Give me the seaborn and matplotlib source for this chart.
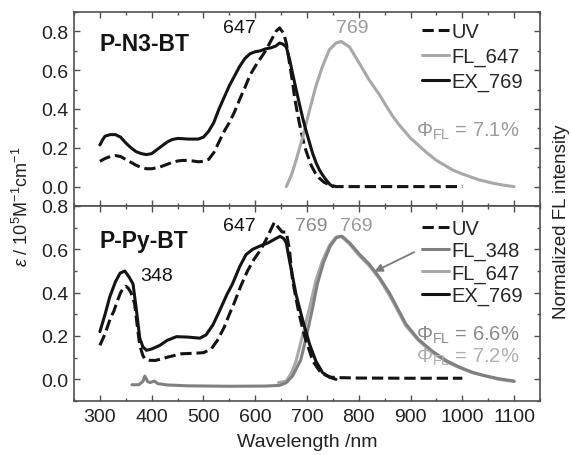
import matplotlib
matplotlib.use("Agg")
import matplotlib.pyplot as plt
import seaborn as sns

# ---------------- P-N3-BT (upper panel) ----------------
n3_uv_wl = [300, 310, 320, 330, 340, 350, 360, 370, 380, 390, 400, 410, 420, 430, 440,
            450, 460, 470, 480, 490, 500, 510, 520, 530, 540, 550, 560, 570, 580, 590,
            600, 610, 620, 630, 640, 647, 655, 660, 666, 672, 676, 680, 685, 690, 695,
            700, 708, 716, 724, 733, 743, 756, 800, 850, 900, 950, 1000]
n3_uv = [0.130, 0.145, 0.155, 0.160, 0.155, 0.140, 0.125, 0.110, 0.098, 0.092, 0.092,
         0.097, 0.105, 0.115, 0.125, 0.132, 0.135, 0.135, 0.132, 0.128, 0.130, 0.140,
         0.175, 0.230, 0.285, 0.330, 0.385, 0.450, 0.510, 0.575, 0.620, 0.660, 0.700,
         0.750, 0.800, 0.818, 0.790, 0.740, 0.640, 0.540, 0.460, 0.400, 0.330, 0.270,
         0.210, 0.170, 0.110, 0.070, 0.043, 0.022, 0.010, 0.000, 0.000, 0.000, 0.000,
         0.000, 0.000]

n3_ex_wl = [300, 305, 310, 320, 330, 340, 350, 360, 370, 380, 390, 400, 410, 420, 430,
            440, 450, 460, 470, 480, 490, 500, 510, 520, 530, 540, 550, 560, 570, 580,
            590, 600, 610, 620, 630, 640, 647, 653, 660, 666, 672, 679, 685, 692, 698,
            705, 711, 718, 724, 730, 737, 744, 750]
n3_ex = [0.215, 0.240, 0.260, 0.268, 0.268, 0.255, 0.225, 0.200, 0.180, 0.170, 0.165,
         0.170, 0.190, 0.210, 0.230, 0.243, 0.248, 0.247, 0.245, 0.245, 0.245, 0.255,
         0.285, 0.330, 0.400, 0.460, 0.520, 0.570, 0.620, 0.660, 0.685, 0.695, 0.700,
         0.710, 0.715, 0.725, 0.740, 0.735, 0.720, 0.660, 0.585, 0.500, 0.430, 0.350,
         0.290, 0.225, 0.170, 0.120, 0.086, 0.060, 0.034, 0.012, 0.000]

n3_fl_wl = [660, 670, 679, 692, 705, 717, 730, 743, 756, 766, 782, 801, 820, 840, 852,
            865, 878, 900, 929, 950, 981, 1000, 1032, 1060, 1080, 1100]
n3_fl = [0.000, 0.060, 0.137, 0.258, 0.395, 0.516, 0.620, 0.705, 0.740, 0.748, 0.720,
         0.636, 0.550, 0.473, 0.420, 0.365, 0.318, 0.250, 0.180, 0.135, 0.086, 0.065,
         0.035, 0.017, 0.007, 0.000]

# ---------------- P-Py-BT (lower panel) ----------------
py_uv_wl = [300, 310, 320, 327, 335, 340, 345, 350, 355, 360, 367, 372, 377, 383, 387,
            395, 407, 420, 435, 458, 480, 500, 515, 527, 540, 550, 559, 572, 585, 598,
            611, 620, 630, 637, 645, 652, 660, 666, 672, 679, 685, 692, 698, 705, 711,
            724, 735, 746, 760, 800, 900, 1000]
py_uv = [0.157, 0.210, 0.280, 0.315, 0.370, 0.400, 0.420, 0.430, 0.420, 0.400, 0.350,
         0.250, 0.157, 0.110, 0.094, 0.088, 0.087, 0.095, 0.105, 0.118, 0.120, 0.123,
         0.140, 0.180, 0.240, 0.300, 0.350, 0.430, 0.500, 0.555, 0.600, 0.640, 0.690,
         0.725, 0.700, 0.680, 0.680, 0.600, 0.460, 0.370, 0.300, 0.230, 0.177, 0.130,
         0.085, 0.039, 0.020, 0.010, 0.008, 0.006, 0.005, 0.005]

py_ex_wl = [300, 310, 319, 330, 339, 348, 357, 364, 370, 374, 377, 383, 390, 400, 416,
            430, 448, 470, 493, 505, 518, 530, 545, 556, 570, 582, 595, 608, 625, 640,
            648, 655, 660, 666, 679, 692, 705, 717, 730, 743, 756]
py_ex = [0.220, 0.300, 0.380, 0.450, 0.490, 0.500, 0.470, 0.440, 0.330, 0.250, 0.190,
         0.150, 0.134, 0.140, 0.157, 0.180, 0.197, 0.195, 0.190, 0.205, 0.250, 0.310,
         0.390, 0.440, 0.520, 0.575, 0.600, 0.614, 0.630, 0.650, 0.660, 0.650, 0.630,
         0.550, 0.390, 0.270, 0.162, 0.085, 0.031, 0.010, 0.000]

py_fl348_wl = [362, 375, 383, 387, 392, 397, 405, 412, 430, 470, 550, 620, 647, 660, 672,
               688, 698, 710, 720, 732, 745, 757, 768, 783, 801, 820, 840, 860, 891, 915,
               942, 970, 994, 1020, 1045, 1070, 1100]
py_fl348 = [-0.025, -0.025, -0.010, 0.015, -0.010, -0.015, -0.008, -0.020, -0.026,
            -0.030, -0.032, -0.031, -0.028, -0.015, 0.015, 0.090, 0.190, 0.320, 0.440,
            0.540, 0.615, 0.655, 0.660, 0.628, 0.578, 0.532, 0.470, 0.395, 0.255, 0.185,
            0.130, 0.085, 0.057, 0.032, 0.016, 0.003, -0.008]

py_fl647_wl = [645, 660, 670, 679, 692, 705, 717, 730, 743, 756, 766, 782, 801, 820, 840,
               860, 891, 915, 942, 970, 994, 1020, 1045, 1070, 1100]
py_fl647 = [-0.015, -0.008, 0.030, 0.085, 0.208, 0.330, 0.455, 0.548, 0.617, 0.656,
            0.660, 0.625, 0.571, 0.525, 0.463, 0.385, 0.247, 0.180, 0.124, 0.080, 0.054,
            0.030, 0.015, 0.000, -0.010]

x_ticks = [300, 400, 500, 600, 700, 800, 900, 1000, 1100]
y_ticks = [0.0, 0.2, 0.4, 0.6, 0.8]

# ---------------- styling ----------------
sns.set_theme(style="ticks")
plt.rcParams["font.family"] = ["Liberation Sans", "DejaVu Sans"]
plt.rcParams.update({
    "mathtext.fontset": "custom",
    "mathtext.rm": "Liberation Sans",
    "mathtext.it": "Liberation Sans:italic",
    "mathtext.bf": "Liberation Sans:bold",
})

BLACK = "#141414"
GRAY_DARK = "#808080"
GRAY_LIGHT = "#a8a8a8"
SPINE = "#505050"
FS = 14
LEG_FS = 14.5
LW = 2.2

fig = plt.figure(figsize=(5.71, 4.56), dpi=100)
ax_top = fig.add_axes([74 / 571, 1 - 207 / 456, 466 / 571, 194 / 456])
ax_bot = fig.add_axes([74 / 571, 1 - 402 / 456, 466 / 571, 195 / 456], sharex=ax_top)

def line(ax, x, y, color, ls="-", label=None, z=2):
    sns.lineplot(x=x, y=y, ax=ax, color=color, linestyle=ls, linewidth=LW,
                 sort=False, estimator=None, label=label, legend=False, zorder=z)

# upper panel
line(ax_top, n3_uv_wl, n3_uv, BLACK, "--", "UV")
line(ax_top, n3_fl_wl, n3_fl, GRAY_LIGHT, "-", "FL_647")
line(ax_top, n3_ex_wl, n3_ex, BLACK, "-", "EX_769", z=2.2)

# lower panel (FL_348 sits above FL_647)
line(ax_bot, py_uv_wl, py_uv, BLACK, "--", "UV", z=2.3)
line(ax_bot, py_fl348_wl, py_fl348, GRAY_DARK, "-", "FL_348", z=2.1)
line(ax_bot, py_fl647_wl, py_fl647, GRAY_LIGHT, "-", "FL_647", z=2.0)
line(ax_bot, py_ex_wl, py_ex, BLACK, "-", "EX_769", z=2.2)

for ax, ylim in ((ax_top, (-0.1, 0.9)), (ax_bot, (-0.1, 0.8))):
    ax.set_xlim(250, 1150)
    ax.set_ylim(*ylim)
    ax.set_yticks(y_ticks)
    ax.set_yticklabels([f"{v:.1f}" for v in y_ticks])
    ax.set_xticks(x_ticks)
    ax.xaxis.set_minor_locator(matplotlib.ticker.MultipleLocator(50))
    ax.yaxis.set_minor_locator(matplotlib.ticker.MultipleLocator(0.1))
    ax.tick_params(which="both", direction="in", top=True, right=True,
                   color=SPINE, width=1.0)
    ax.tick_params(which="major", length=4.5, labelsize=FS, pad=4, labelcolor="#222222")
    ax.tick_params(which="minor", length=2.5)
    ax.tick_params(axis="y", which="both", labelright=False)
    for s in ax.spines.values():
        s.set_color(SPINE)
        s.set_linewidth(1.2)
    ax.set_xlabel("")
    ax.set_ylabel("")
    leg_y = 0.95 if ax is ax_top else 0.935
    spacing = 0.30 if ax is ax_top else 0.16
    ax.legend(loc="upper left", bbox_to_anchor=(0.747, leg_y), frameon=False,
              fontsize=LEG_FS, handlelength=1.35, handletextpad=0.12, borderpad=0,
              borderaxespad=0, labelspacing=spacing)

ax_top.tick_params(axis="x", labelbottom=False)
ax_bot.tick_params(axis="x", pad=5)

# annotations, upper panel
ax_top.text(300, 0.74, "P-N3-BT", fontsize=16.5, fontweight="bold", ha="left", va="center",
            color=BLACK)
ax_top.text(570, 0.82, "647", fontsize=FS, ha="center", va="center", color=BLACK)
ax_top.text(788, 0.82, "769", fontsize=FS, ha="center", va="center", color="#9a9a9a")
ax_top.text(911, 0.29, r"Φ$_{\mathrm{FL}}$ = 7.1%", fontsize=LEG_FS, ha="left",
            va="center", color="#9a9a9a")

# annotations, lower panel
ax_bot.text(300, 0.64, "P-Py-BT", fontsize=16.5, fontweight="bold", ha="left", va="center",
            color=BLACK)
ax_bot.text(570, 0.71, "647", fontsize=FS, ha="center", va="center", color=BLACK)
ax_bot.text(410, 0.478, "348", fontsize=FS, ha="center", va="center", color=BLACK)
ax_bot.text(708, 0.71, "769", fontsize=FS, ha="center", va="center", color="#8a8a8a")
ax_bot.text(795, 0.71, "769", fontsize=FS, ha="center", va="center", color="#9a9a9a")
ax_bot.text(911, 0.208, r"Φ$_{\mathrm{FL}}$ = 6.6%", fontsize=LEG_FS, ha="left",
            va="center", color="#8a8a8a")
ax_bot.text(911, 0.108, r"Φ$_{\mathrm{FL}}$ = 7.2%", fontsize=LEG_FS, ha="left",
            va="center", color="#b0b0b0")
ax_bot.annotate("", xy=(830, 0.497), xytext=(907, 0.587),
                arrowprops=dict(arrowstyle="-|>", color="#7a7a7a", lw=1.3,
                                mutation_scale=12, shrinkA=0, shrinkB=0))

# axis titles
fig.text(22 / 571, 1 - 207 / 456, r"$\mathit{ε}$ / 10$^5$M$^{-1}$cm$^{-1}$", rotation=90,
         ha="center", va="center", fontsize=13, color="#222222")
fig.text(562 / 571, 1 - 222 / 456, "Normalized FL intensity", rotation=90,
         ha="center", va="center", fontsize=13.5, color="#222222")
fig.text(307 / 571, 1 - 443 / 456, "Wavelength /nm", ha="center", va="center",
         fontsize=14, color="#222222")

fig.savefig("out.png", dpi=100)
